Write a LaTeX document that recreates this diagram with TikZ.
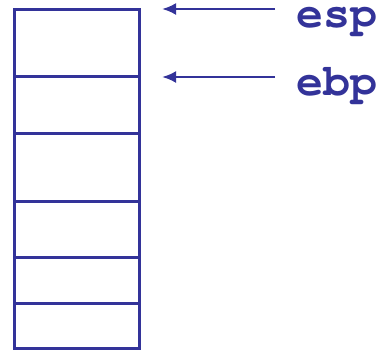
\documentclass[tikz,border=0pt]{standalone}
\usetikzlibrary{arrows.meta}
\definecolor{stk}{RGB}{51,51,153}
\newcommand{\cour}{\fontencoding{T1}\fontfamily{pcr}\fontseries{b}\fontsize{45}{45}\selectfont}
\begin{document}
\begin{tikzpicture}[x=1pt,y=-1pt,
  cell/.style={draw=stk,line width=3pt,minimum width=125pt,inner sep=0pt,outer sep=0pt},
  lbl/.style={text=stk,font=\cour,inner sep=0pt,anchor=base west},
  ptr/.style={draw=stk,line width=2.6pt,-{Latex[length=14pt,width=12pt]}}]
\useasboundingbox (0,0) rectangle (379,351);
\node[cell,minimum height=67.5pt] (c1) at (76.5,42.75) {};
\node[cell,minimum height=56.5pt] (c2) at (76.5,104.75) {};
\node[cell,minimum height=68pt] (c3) at (76.5,167) {};
\node[cell,minimum height=56pt] (c4) at (76.5,229) {};
\node[cell,minimum height=46pt] (c5) at (76.5,280) {};
\node[cell,minimum height=45pt] (c6) at (76.5,325.5) {};
\node[lbl] (esp) at (296,27) {esp};
\node[lbl] (ebp) at (296,95) {ebp};
\coordinate (s1) at (275,9);
\coordinate (e1) at (162,9);
\coordinate (s2) at (275,77);
\coordinate (e2) at (162,77);
\draw[ptr] (s1) -- (e1);
\draw[ptr] (s2) -- (e2);
\end{tikzpicture}
\end{document}
